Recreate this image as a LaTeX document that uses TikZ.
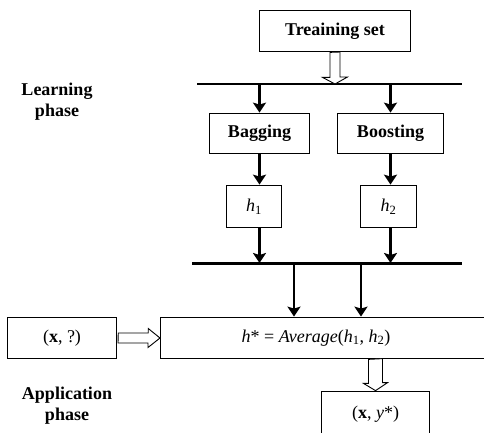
\documentclass[tikz,border=0pt]{standalone}
\usepackage{fontspec}
\setmainfont{Liberation Serif}
\usepackage{tikz}
\usetikzlibrary{arrows.meta}

\begin{document}
\begin{tikzpicture}[x=1bp,y=-1bp,
  font=\fontsize{18bp}{21bp}\selectfont,
  box/.style={draw,line width=0.9bp,inner sep=0pt},
  arr/.style={-{Stealth[length=10bp,width=13bp,inset=2bp]},line width=2.2bp},
  hollow/.style={draw,fill=white,line width=0.9bp,line join=miter}]
  \useasboundingbox (0,0) rectangle (484,433);
  % learning phase
  \node[box,minimum width=152,minimum height=42,font=\fontsize{18bp}{21bp}\bfseries] (train) at (335,31) {Treaining set};
  \node[box,minimum width=101,minimum height=41,font=\fontsize{18bp}{21bp}\bfseries] (bag) at (259.5,133.5) {Bagging};
  \node[box,minimum width=107,minimum height=41,font=\fontsize{18bp}{21bp}\bfseries] (boost) at (390.5,133.5) {Boosting};
  \node[box,minimum width=56,minimum height=43] (h1) at (254,206.5) {\textit{h}\textsubscript{1}};
  \node[box,minimum width=57,minimum height=43] (h2) at (388.5,206.5) {\textit{h}\textsubscript{2}};
  \node[align=center,font=\fontsize{18bp}{21bp}\bfseries] (learn) at (57,102) {Learning\\phase};
  \coordinate (tl1) at (197,84);
  \coordinate (tl2) at (462,84);
  \coordinate (tk1) at (192,263);
  \coordinate (tk2) at (462,263);
  \coordinate (m1) at (294,263);
  \coordinate (m2) at (361,263);
  \draw[line width=1.3bp] (tl1) -- (tl2);
  \draw[line width=3bp] (tk1) -- (tk2);
  % application phase
  \node[box,minimum width=330,minimum height=42,anchor=west] (avg) at (160,338) {};
  \node (avgtext) at (316,338) {\textit{h}* = \textit{Average}(\textit{h}\textsubscript{1}, \textit{h}\textsubscript{2})};
  \node[box,minimum width=110,minimum height=42] (xq) at (62,338) {(\textbf{x}, ?)};
  \node[box,minimum width=109,minimum height=46] (out) at (375.5,414) {(\textbf{x}, \textit{y}*)};
  \node[align=center,font=\fontsize{18bp}{21bp}\bfseries] (appl) at (67,406) {Application\\phase};
  \coordinate (b0) at (out.north |- avg.south);
  % arrows
  \draw[hollow] (train.south) ++(-5,0) -- ++(0,25) -- ++(-7.5,0) -- (train.south |- tl1) -- ++(12.5,-7) -- ++(-7.5,0) -- ++(0,-25) -- cycle;
  \draw[arr] (bag.north |- tl1) -- (bag.north);
  \draw[arr] (boost.north |- tl1) -- (boost.north);
  \draw[arr] (bag.south) -- (bag.south |- h1.north);
  \draw[arr] (boost.south) -- (boost.south |- h2.north);
  \draw[arr] (bag.south |- h1.south) -- (bag.south |- tk1);
  \draw[arr] (boost.south |- h2.south) -- (boost.south |- tk1);
  \draw[arr] (m1) -- (m1 |- avg.north);
  \draw[arr] (m2) -- (m2 |- avg.north);
  \draw[hollow] (xq.east) ++(1,-5) -- ++(30,0) -- ++(0,-4.5) -- (avg.west) -- ++(-12,9.5) -- ++(0,-4.5) -- ++(-30,0) -- cycle;
  \draw[hollow] (b0) ++(-7,0) -- ++(0,24) -- ++(-5,0) -- (out.north) -- ++(12,-8) -- ++(-5,0) -- ++(0,-24) -- cycle;
\end{tikzpicture}
\end{document}
